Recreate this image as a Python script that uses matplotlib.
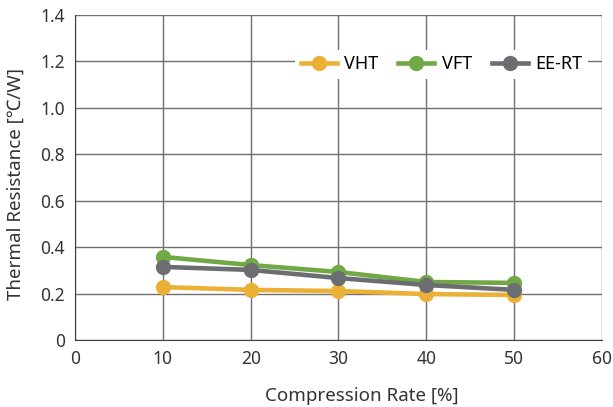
import matplotlib
matplotlib.use("Agg")
from matplotlib import pyplot as plt

plt.rcParams['font.family'] = ['Noto Sans', 'DejaVu Sans']

# data
rate = [10, 20, 30, 40, 50]
vht = [0.228, 0.216, 0.211, 0.198, 0.194]
vft = [0.358, 0.323, 0.293, 0.250, 0.246]
eert = [0.315, 0.302, 0.267, 0.237, 0.216]

series = [("VHT", vht, "#EBB136"), ("VFT", vft, "#71A846"), ("EE-RT", eert, "#6C6D71")]

fig = plt.figure(figsize=(6.13, 4.07), dpi=100)
ax = fig.add_axes([0.1223, 0.1646, 0.8597, 0.7984])

for name, vals, col in series:
    ax.plot(rate, vals, color=col, lw=3.3, marker="o", ms=10, label=name)

ax.set_xlim(0, 60)
ax.set_ylim(0, 1.4)
ax.set_xticks(range(0, 61, 10))
ax.set_yticks([0, 0.2, 0.4, 0.6, 0.8, 1.0, 1.2, 1.4])
ax.set_yticklabels(["0", "0.2", "0.4", "0.6", "0.8", "1.0", "1.2", "1.4"])
ax.grid(True, color="#6f6f6f", lw=1)
ax.set_axisbelow(True)
for s in ["top", "right"]:
    ax.spines[s].set_visible(False)
for s in ["left", "bottom"]:
    ax.spines[s].set_color("#404040")
ax.tick_params(length=0, labelsize=12.5, colors="#333333", pad=7)

ax.set_xlabel("Compression Rate [%]", fontsize=13.5, color="#333333")
ax.xaxis.set_label_coords(0.545, -0.145)
ax.set_ylabel("Thermal Resistance [℃/W]", fontsize=13.5, color="#333333")
ax.yaxis.set_label_coords(-0.095, 0.48)

leg = ax.legend(loc="upper right", bbox_to_anchor=(0.99, 0.92), ncol=3, frameon=True,
                fontsize=13, handlelength=2.0, columnspacing=1.1, handletextpad=0.4,
                borderpad=0.3)
leg.get_frame().set_facecolor("white")
leg.get_frame().set_edgecolor("none")
leg.get_frame().set_alpha(1)

fig.savefig("out.png", dpi=100)
